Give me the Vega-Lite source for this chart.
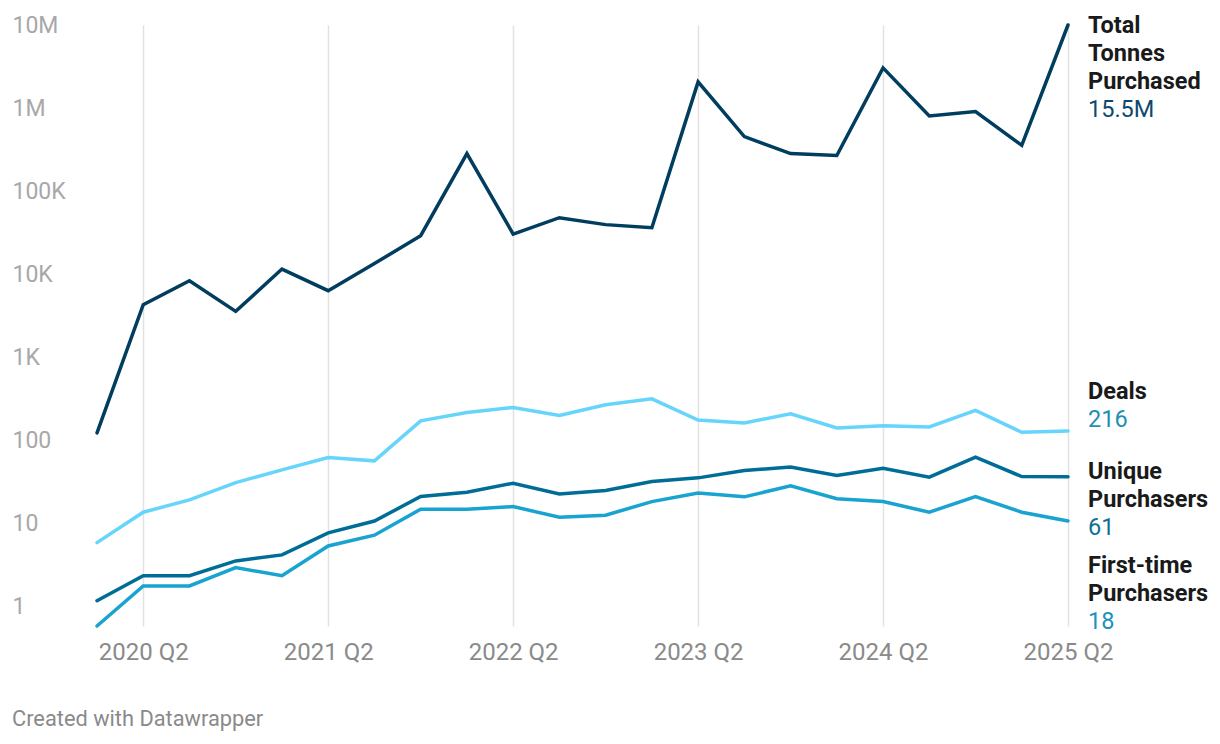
{
  "$schema": "https://vega.github.io/schema/vega-lite/v6.json",
  "width": 971,
  "height": 601,
  "autosize": "none",
  "padding": {"left": 97, "top": 25, "right": 152, "bottom": 118},
  "background": "white",
  "config": {
    "font": "Roboto",
    "view": {"stroke": null}
  },
  "data": {
    "values": [
      {"q": "2020 Q1", "series": "Total Tonnes Purchased", "v": 124},
      {"q": "2020 Q2", "series": "Total Tonnes Purchased", "v": 4320},
      {"q": "2020 Q3", "series": "Total Tonnes Purchased", "v": 8400},
      {"q": "2020 Q4", "series": "Total Tonnes Purchased", "v": 3590},
      {"q": "2021 Q1", "series": "Total Tonnes Purchased", "v": 11600},
      {"q": "2021 Q2", "series": "Total Tonnes Purchased", "v": 6370},
      {"q": "2021 Q3", "series": "Total Tonnes Purchased", "v": 13500},
      {"q": "2021 Q4", "series": "Total Tonnes Purchased", "v": 29200},
      {"q": "2022 Q1", "series": "Total Tonnes Purchased", "v": 284000},
      {"q": "2022 Q2", "series": "Total Tonnes Purchased", "v": 30600},
      {"q": "2022 Q3", "series": "Total Tonnes Purchased", "v": 48100},
      {"q": "2022 Q4", "series": "Total Tonnes Purchased", "v": 39700},
      {"q": "2023 Q1", "series": "Total Tonnes Purchased", "v": 36500},
      {"q": "2023 Q2", "series": "Total Tonnes Purchased", "v": 2070000},
      {"q": "2023 Q3", "series": "Total Tonnes Purchased", "v": 455000},
      {"q": "2023 Q4", "series": "Total Tonnes Purchased", "v": 284000},
      {"q": "2024 Q1", "series": "Total Tonnes Purchased", "v": 269000},
      {"q": "2024 Q2", "series": "Total Tonnes Purchased", "v": 3050000},
      {"q": "2024 Q3", "series": "Total Tonnes Purchased", "v": 807000},
      {"q": "2024 Q4", "series": "Total Tonnes Purchased", "v": 910000},
      {"q": "2025 Q1", "series": "Total Tonnes Purchased", "v": 357000},
      {"q": "2025 Q2", "series": "Total Tonnes Purchased", "v": 10100000},

      {"q": "2020 Q1", "series": "Deals", "v": 5.94},
      {"q": "2020 Q2", "series": "Deals", "v": 13.8},
      {"q": "2020 Q3", "series": "Deals", "v": 19.4},
      {"q": "2020 Q4", "series": "Deals", "v": 31.3},
      {"q": "2021 Q1", "series": "Deals", "v": 44.6},
      {"q": "2021 Q2", "series": "Deals", "v": 62.7},
      {"q": "2021 Q3", "series": "Deals", "v": 57.2},
      {"q": "2021 Q4", "series": "Deals", "v": 173},
      {"q": "2022 Q1", "series": "Deals", "v": 218},
      {"q": "2022 Q2", "series": "Deals", "v": 251},
      {"q": "2022 Q3", "series": "Deals", "v": 201},
      {"q": "2022 Q4", "series": "Deals", "v": 270},
      {"q": "2023 Q1", "series": "Deals", "v": 319},
      {"q": "2023 Q2", "series": "Deals", "v": 177},
      {"q": "2023 Q3", "series": "Deals", "v": 163},
      {"q": "2023 Q4", "series": "Deals", "v": 211},
      {"q": "2024 Q1", "series": "Deals", "v": 142},
      {"q": "2024 Q2", "series": "Deals", "v": 151},
      {"q": "2024 Q3", "series": "Deals", "v": 146},
      {"q": "2024 Q4", "series": "Deals", "v": 231},
      {"q": "2025 Q1", "series": "Deals", "v": 126},
      {"q": "2025 Q2", "series": "Deals", "v": 131},

      {"q": "2020 Q1", "series": "Unique Purchasers", "v": 1.19},
      {"q": "2020 Q2", "series": "Unique Purchasers", "v": 2.38},
      {"q": "2020 Q3", "series": "Unique Purchasers", "v": 2.38},
      {"q": "2020 Q4", "series": "Unique Purchasers", "v": 3.58},
      {"q": "2021 Q1", "series": "Unique Purchasers", "v": 4.23},
      {"q": "2021 Q2", "series": "Unique Purchasers", "v": 7.78},
      {"q": "2021 Q3", "series": "Unique Purchasers", "v": 10.8},
      {"q": "2021 Q4", "series": "Unique Purchasers", "v": 21.3},
      {"q": "2022 Q1", "series": "Unique Purchasers", "v": 24.0},
      {"q": "2022 Q2", "series": "Unique Purchasers", "v": 30.8},
      {"q": "2022 Q3", "series": "Unique Purchasers", "v": 22.9},
      {"q": "2022 Q4", "series": "Unique Purchasers", "v": 25.1},
      {"q": "2023 Q1", "series": "Unique Purchasers", "v": 32.2},
      {"q": "2023 Q2", "series": "Unique Purchasers", "v": 35.7},
      {"q": "2023 Q3", "series": "Unique Purchasers", "v": 43.7},
      {"q": "2023 Q4", "series": "Unique Purchasers", "v": 48.1},
      {"q": "2024 Q1", "series": "Unique Purchasers", "v": 38.1},
      {"q": "2024 Q2", "series": "Unique Purchasers", "v": 46.7},
      {"q": "2024 Q3", "series": "Unique Purchasers", "v": 36.4},
      {"q": "2024 Q4", "series": "Unique Purchasers", "v": 63.4},
      {"q": "2025 Q1", "series": "Unique Purchasers", "v": 37.0},
      {"q": "2025 Q2", "series": "Unique Purchasers", "v": 36.7},

      {"q": "2020 Q1", "series": "First-time Purchasers", "v": 0.59},
      {"q": "2020 Q2", "series": "First-time Purchasers", "v": 1.79},
      {"q": "2020 Q3", "series": "First-time Purchasers", "v": 1.79},
      {"q": "2020 Q4", "series": "First-time Purchasers", "v": 2.97},
      {"q": "2021 Q1", "series": "First-time Purchasers", "v": 2.38},
      {"q": "2021 Q2", "series": "First-time Purchasers", "v": 5.42},
      {"q": "2021 Q3", "series": "First-time Purchasers", "v": 7.30},
      {"q": "2021 Q4", "series": "First-time Purchasers", "v": 15.0},
      {"q": "2022 Q1", "series": "First-time Purchasers", "v": 15.0},
      {"q": "2022 Q2", "series": "First-time Purchasers", "v": 16.1},
      {"q": "2022 Q3", "series": "First-time Purchasers", "v": 12.0},
      {"q": "2022 Q4", "series": "First-time Purchasers", "v": 12.7},
      {"q": "2023 Q1", "series": "First-time Purchasers", "v": 18.5},
      {"q": "2023 Q2", "series": "First-time Purchasers", "v": 23.4},
      {"q": "2023 Q3", "series": "First-time Purchasers", "v": 21.1},
      {"q": "2023 Q4", "series": "First-time Purchasers", "v": 28.6},
      {"q": "2024 Q1", "series": "First-time Purchasers", "v": 20.0},
      {"q": "2024 Q2", "series": "First-time Purchasers", "v": 18.5},
      {"q": "2024 Q3", "series": "First-time Purchasers", "v": 13.8},
      {"q": "2024 Q4", "series": "First-time Purchasers", "v": 21.3},
      {"q": "2025 Q1", "series": "First-time Purchasers", "v": 13.8},
      {"q": "2025 Q2", "series": "First-time Purchasers", "v": 10.8}
    ]
  },
  "encoding": {
    "x": {
      "field": "q",
      "type": "ordinal",
      "scale": {"type": "point", "padding": 0},
      "axis": {
        "title": null,
        "values": ["2020 Q2", "2021 Q2", "2022 Q2", "2023 Q2", "2024 Q2", "2025 Q2"],
        "labelAngle": 0,
        "labelFontSize": 24,
        "labelColor": "#8a8a8a",
        "labelPadding": 14,
        "ticks": false,
        "domain": false,
        "grid": true,
        "gridColor": "#e2e2e2",
        "gridWidth": 1.5
      }
    },
    "y": {
      "field": "v",
      "type": "quantitative",
      "scale": {"type": "log", "domain": [0.59, 10000000], "nice": false, "clamp": true},
      "axis": {
        "title": null,
        "values": [1, 10, 100, 1000, 10000, 100000, 1000000, 10000000],
        "labelExpr": "datum.value >= 1000000 ? (datum.value / 1000000) + 'M' : datum.value >= 1000 ? (datum.value / 1000) + 'K' : datum.value",
        "labelAlign": "left",
        "labelPadding": 85,
        "labelFontSize": 23,
        "labelColor": "#a8a8a8",
        "ticks": false,
        "domain": false,
        "grid": false
      }
    }
  },
  "layer": [
    {
      "mark": {"type": "line", "strokeWidth": 3.5, "strokeJoin": "miter", "strokeCap": "round"},
      "encoding": {
        "color": {
          "field": "series",
          "type": "nominal",
          "scale": {
            "domain": ["Total Tonnes Purchased", "Deals", "Unique Purchasers", "First-time Purchasers"],
            "range": ["#013d5f", "#67d5fb", "#006d96", "#18a3d1"]
          },
          "legend": null
        },
        "order": {"value": 0}
      }
    },
    {
      "transform": [{"filter": "datum.q === '2025 Q2' && datum.series === 'Total Tonnes Purchased'"}],
      "mark": {"type": "text", "align": "left", "baseline": "middle", "dx": 20, "dy": 1, "fontSize": 23.5, "fontWeight": "bold", "color": "#1a1a1a", "lineHeight": 28, "text": ["Total", "Tonnes", "Purchased"]},
      "encoding": {}
    },
    {
      "transform": [{"filter": "datum.q === '2025 Q2' && datum.series === 'Total Tonnes Purchased'"}],
      "mark": {"type": "text", "align": "left", "baseline": "middle", "dx": 20, "dy": 85, "fontSize": 23.5, "color": "#0b4a6f", "text": "15.5M"},
      "encoding": {}
    },
    {
      "transform": [{"filter": "datum.q === '2025 Q2' && datum.series === 'Deals'"}],
      "mark": {"type": "text", "align": "left", "baseline": "middle", "dx": 20, "dy": -39, "fontSize": 23.5, "fontWeight": "bold", "color": "#1a1a1a", "text": "Deals"},
      "encoding": {}
    },
    {
      "transform": [{"filter": "datum.q === '2025 Q2' && datum.series === 'Deals'"}],
      "mark": {"type": "text", "align": "left", "baseline": "middle", "dx": 20, "dy": -11, "fontSize": 23.5, "color": "#1e8fb4", "text": "216"},
      "encoding": {}
    },
    {
      "transform": [{"filter": "datum.q === '2025 Q2' && datum.series === 'Unique Purchasers'"}],
      "mark": {"type": "text", "align": "left", "baseline": "middle", "dx": 20, "dy": -5, "fontSize": 23.5, "fontWeight": "bold", "color": "#1a1a1a", "lineHeight": 28, "text": ["Unique", "Purchasers"]},
      "encoding": {}
    },
    {
      "transform": [{"filter": "datum.q === '2025 Q2' && datum.series === 'Unique Purchasers'"}],
      "mark": {"type": "text", "align": "left", "baseline": "middle", "dx": 20, "dy": 51, "fontSize": 23.5, "color": "#0e6f96", "text": "61"},
      "encoding": {}
    },
    {
      "transform": [{"filter": "datum.q === '2025 Q2' && datum.series === 'First-time Purchasers'"}],
      "mark": {"type": "text", "align": "left", "baseline": "middle", "dx": 20, "dy": 45, "fontSize": 23.5, "fontWeight": "bold", "color": "#1a1a1a", "lineHeight": 28, "text": ["First-time", "Purchasers"]},
      "encoding": {}
    },
    {
      "transform": [{"filter": "datum.q === '2025 Q2' && datum.series === 'First-time Purchasers'"}],
      "mark": {"type": "text", "align": "left", "baseline": "middle", "dx": 20, "dy": 101, "fontSize": 23.5, "color": "#1b92bf", "text": "18"},
      "encoding": {}
    },
    {
      "transform": [{"filter": "datum.q === '2020 Q1' && datum.series === 'Deals'"}],
      "mark": {"type": "text", "align": "left", "baseline": "middle", "dx": -85, "dy": 0, "fontSize": 21.8, "color": "#8a8a8a", "text": "Created with Datawrapper"},
      "encoding": {"y": {"value": 694}}
    }
  ]
}
